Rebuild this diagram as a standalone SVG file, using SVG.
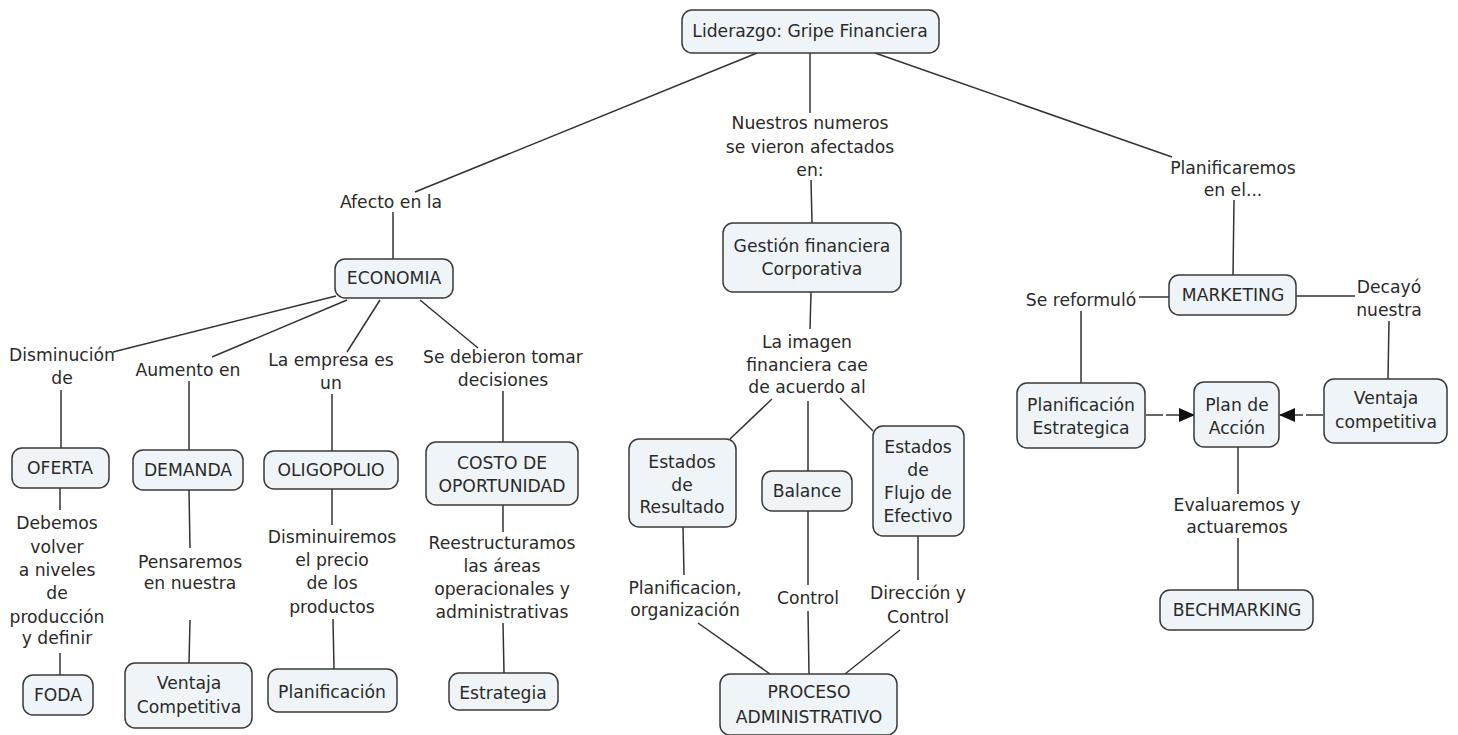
<svg xmlns="http://www.w3.org/2000/svg" width="1458" height="735" viewBox="0 0 1458 735">
<style>
.n rect{fill:#eef4f7;stroke:#3a3a3a;stroke-width:1.5}
text{font-family:"DejaVu Sans",Verdana,sans-serif;font-size:17.2px;fill:#2a2a2a;text-anchor:middle}
.c line{stroke:#333;stroke-width:1.5}
.a{stroke-dasharray:17 3}
</style>
<defs>
<marker id="ah" markerWidth="16" markerHeight="14" refX="15" refY="7" orient="auto" markerUnits="userSpaceOnUse">
<path d="M0,0 L16,7 L0,14 Z" fill="#111"/>
</marker>
</defs>
<rect width="1458" height="735" fill="#fff"/>
<g class="c">
<line x1="757" y1="53" x2="415" y2="192"/>
<line x1="393" y1="212" x2="393" y2="259"/>
<line x1="810" y1="53" x2="810" y2="113"/>
<line x1="811" y1="180" x2="812" y2="223"/>
<line x1="875" y1="53" x2="1172" y2="157"/>
<line x1="1234" y1="200" x2="1233" y2="275"/>
<line x1="336" y1="296" x2="113" y2="352"/>
<line x1="347" y1="300" x2="212" y2="357"/>
<line x1="380" y1="300" x2="347" y2="352"/>
<line x1="420" y1="300" x2="478" y2="348"/>
<line x1="61" y1="390" x2="61" y2="448"/>
<line x1="189" y1="381" x2="189" y2="450"/>
<line x1="332" y1="394" x2="332" y2="451"/>
<line x1="503" y1="391" x2="503" y2="442"/>
<line x1="60" y1="488" x2="60" y2="510"/>
<line x1="60" y1="653" x2="60" y2="675"/>
<line x1="189" y1="490" x2="190" y2="548"/>
<line x1="190" y1="620" x2="189" y2="663"/>
<line x1="332" y1="489" x2="332" y2="525"/>
<line x1="333" y1="619" x2="334" y2="669"/>
<line x1="503" y1="505" x2="503" y2="532"/>
<line x1="503" y1="623" x2="504" y2="673"/>
<line x1="811" y1="292" x2="810" y2="329"/>
<line x1="772" y1="399" x2="730" y2="439"/>
<line x1="808" y1="401" x2="808" y2="471"/>
<line x1="840" y1="398" x2="873" y2="431"/>
<line x1="683" y1="527" x2="684" y2="575"/>
<line x1="698" y1="623" x2="770" y2="674"/>
<line x1="808" y1="511" x2="808" y2="585"/>
<line x1="808" y1="611" x2="809" y2="674"/>
<line x1="918" y1="536" x2="918" y2="580"/>
<line x1="900" y1="630" x2="845" y2="674"/>
<line x1="1139" y1="297" x2="1169" y2="297"/>
<line x1="1296" y1="296" x2="1355" y2="296"/>
<line x1="1081" y1="311" x2="1081" y2="383"/>
<line x1="1389" y1="321" x2="1388" y2="379"/>
<line class="a" x1="1146" y1="415" x2="1194" y2="415" marker-end="url(#ah)"/>
<line class="a" x1="1323" y1="415" x2="1280" y2="415" marker-end="url(#ah)"/>
<line x1="1238" y1="447" x2="1238" y2="494"/>
<line x1="1238" y1="538" x2="1238" y2="590"/>
</g>
<g id="labels">
<text x="391" y="208">Afecto en la</text>
<text x="810" y="129">Nuestros numeros</text>
<text x="810" y="153">se vieron afectados</text>
<text x="810" y="176">en:</text>
<text x="1233" y="174">Planificaremos</text>
<text x="1233" y="196">en el...</text>
<text x="62" y="361">Disminución</text>
<text x="62" y="384">de</text>
<text x="188" y="376">Aumento en</text>
<text x="331" y="366">La empresa es</text>
<text x="331" y="389">un</text>
<text x="503" y="363">Se debieron tomar</text>
<text x="503" y="386">decisiones</text>
<text x="57" y="529">Debemos</text>
<text x="57" y="553">volver</text>
<text x="57" y="576">a niveles</text>
<text x="57" y="599">de</text>
<text x="57" y="623">producción</text>
<text x="57" y="644">y definir</text>
<text x="190" y="568">Pensaremos</text>
<text x="190" y="589">en nuestra</text>
<text x="332" y="543">Disminuiremos</text>
<text x="332" y="566">el precio</text>
<text x="332" y="589">de los</text>
<text x="332" y="613">productos</text>
<text x="502" y="549">Reestructuramos</text>
<text x="502" y="572">las áreas</text>
<text x="502" y="595">operacionales y</text>
<text x="502" y="618">administrativas</text>
<text x="807" y="348">La imagen</text>
<text x="807" y="371">financiera cae</text>
<text x="807" y="393">de acuerdo al</text>
<text x="685" y="594">Planificacion,</text>
<text x="685" y="616">organización</text>
<text x="808" y="604">Control</text>
<text x="918" y="599">Dirección y</text>
<text x="918" y="623">Control</text>
<text x="1081" y="306">Se reformuló</text>
<text x="1389" y="293">Decayó</text>
<text x="1389" y="316">nuestra</text>
<text x="1237" y="511">Evaluaremos y</text>
<text x="1237" y="533">actuaremos</text>
</g>
<g id="n-top" class="n"><rect x="682" y="10" width="257" height="43" rx="10"/><text x="810" y="37">Liderazgo: Gripe Financiera</text></g>
<g id="n-economia" class="n"><rect x="335" y="259" width="118" height="39" rx="10"/><text x="394" y="284">ECONOMIA</text></g>
<g id="n-gestion" class="n"><rect x="723" y="223" width="178" height="69" rx="10"/><text x="812" y="252">Gestión financiera</text><text x="812" y="275">Corporativa</text></g>
<g id="n-marketing" class="n"><rect x="1169" y="275" width="127" height="40" rx="10"/><text x="1233" y="301">MARKETING</text></g>
<g id="n-oferta" class="n"><rect x="12" y="448" width="97" height="40" rx="10"/><text x="60" y="474">OFERTA</text></g>
<g id="n-demanda" class="n"><rect x="133" y="450" width="110" height="40" rx="10"/><text x="188" y="476">DEMANDA</text></g>
<g id="n-oligopolio" class="n"><rect x="264" y="451" width="134" height="38" rx="10"/><text x="331" y="476">OLIGOPOLIO</text></g>
<g id="n-costo" class="n"><rect x="426" y="442" width="152" height="63" rx="10"/><text x="502" y="469">COSTO DE</text><text x="502" y="492">OPORTUNIDAD</text></g>
<g id="n-foda" class="n"><rect x="23" y="675" width="70" height="40" rx="10"/><text x="58" y="701">FODA</text></g>
<g id="n-ventaja1" class="n"><rect x="125" y="663" width="127" height="65" rx="10"/><text x="189" y="689">Ventaja</text><text x="189" y="713">Competitiva</text></g>
<g id="n-planificacion" class="n"><rect x="268" y="669" width="129" height="43" rx="10"/><text x="332" y="698">Planificación</text></g>
<g id="n-estrategia" class="n"><rect x="449" y="673" width="109" height="37" rx="10"/><text x="503" y="699">Estrategia</text></g>
<g id="n-resultado" class="n"><rect x="629" y="439" width="107" height="88" rx="10"/><text x="682" y="468">Estados</text><text x="682" y="491">de</text><text x="682" y="513">Resultado</text></g>
<g id="n-balance" class="n"><rect x="762" y="471" width="90" height="40" rx="10"/><text x="807" y="497">Balance</text></g>
<g id="n-flujo" class="n"><rect x="873" y="426" width="91" height="110" rx="10"/><text x="918" y="453">Estados</text><text x="918" y="476">de</text><text x="918" y="499">Flujo de</text><text x="918" y="522">Efectivo</text></g>
<g id="n-proceso" class="n"><rect x="720" y="674" width="177" height="61" rx="10"/><text x="809" y="698">PROCESO</text><text x="809" y="723">ADMINISTRATIVO</text></g>
<g id="n-planest" class="n"><rect x="1017" y="383" width="128" height="65" rx="10"/><text x="1081" y="411">Planificación</text><text x="1081" y="434">Estrategica</text></g>
<g id="n-plan" class="n"><rect x="1194" y="382" width="85" height="65" rx="10"/><text x="1237" y="411">Plan de</text><text x="1237" y="434">Acción</text></g>
<g id="n-ventaja2" class="n"><rect x="1324" y="379" width="123" height="64" rx="10"/><text x="1386" y="404">Ventaja</text><text x="1386" y="428">competitiva</text></g>
<g id="n-bech" class="n"><rect x="1160" y="590" width="153" height="40" rx="10"/><text x="1237" y="616">BECHMARKING</text></g>
</svg>
